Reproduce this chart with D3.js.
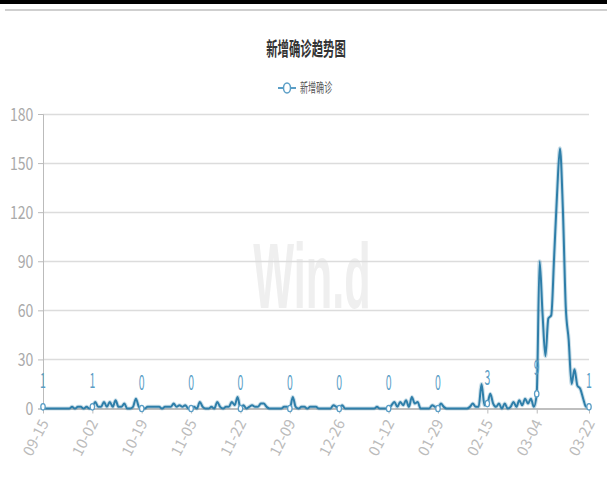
<!DOCTYPE html>
<html>
<head>
<meta charset="utf-8">
<script src="https://cdn.jsdelivr.net/npm/d3@7"></script>
<style>
  body { margin: 0; background: #fff; }
  svg { display: block; font-family: "Noto Sans CJK SC", "Noto Sans", sans-serif; }
</style>
</head>
<body>
<svg class="chart"></svg>
<script>
// daily categories 09-15 .. 03-22
var dates = [
  "09-15","09-16","09-17","09-18","09-19","09-20","09-21","09-22","09-23","09-24","09-25","09-26","09-27","09-28","09-29","09-30",
  "10-01","10-02","10-03","10-04","10-05","10-06","10-07","10-08","10-09","10-10","10-11","10-12","10-13","10-14","10-15","10-16",
  "10-17","10-18","10-19","10-20","10-21","10-22","10-23","10-24","10-25","10-26","10-27","10-28","10-29","10-30","10-31",
  "11-01","11-02","11-03","11-04","11-05","11-06","11-07","11-08","11-09","11-10","11-11","11-12","11-13","11-14","11-15",
  "11-16","11-17","11-18","11-19","11-20","11-21","11-22","11-23","11-24","11-25","11-26","11-27","11-28","11-29","11-30",
  "12-01","12-02","12-03","12-04","12-05","12-06","12-07","12-08","12-09","12-10","12-11","12-12","12-13","12-14","12-15","12-16",
  "12-17","12-18","12-19","12-20","12-21","12-22","12-23","12-24","12-25","12-26","12-27","12-28","12-29","12-30","12-31",
  "01-01","01-02","01-03","01-04","01-05","01-06","01-07","01-08","01-09","01-10","01-11","01-12","01-13","01-14","01-15","01-16",
  "01-17","01-18","01-19","01-20","01-21","01-22","01-23","01-24","01-25","01-26","01-27","01-28","01-29","01-30","01-31",
  "02-01","02-02","02-03","02-04","02-05","02-06","02-07","02-08","02-09","02-10","02-11","02-12","02-13","02-14","02-15","02-16",
  "02-17","02-18","02-19","02-20","02-21","02-22","02-23","02-24","02-25","02-26","02-27","02-28",
  "03-01","03-02","03-03","03-04","03-05","03-06","03-07","03-08","03-09","03-10","03-11","03-12","03-13","03-14","03-15","03-16",
  "03-17","03-18","03-19","03-20","03-21","03-22"
];

// 新增确诊 per day
var newCases = [
  1,0,0,0,0,0,0,0,0,0,
  1,0,1,1,0,1,0,1,4,1,
  1,4,1,4,1,5,1,1,3,0,
  0,1,6,1,0,0,1,1,1,1,
  1,0,1,1,1,3,1,2,1,2,
  0,0,1,0,4,1,0,0,1,0,
  4,1,0,1,1,4,2,7,0,2,
  0,1,2,1,1,3,3,1,0,0,
  0,0,0,1,1,0,7,1,0,1,
  1,0,1,1,1,0,0,0,0,0,
  2,1,0,2,0,0,0,0,0,0,
  0,0,0,0,0,1,0,0,0,0,
  2,4,1,4,2,5,1,7,3,4,
  0,0,0,0,2,1,0,3,1,0,
  0,0,0,0,0,0,0,1,3,1,
  1,15,2,3,9,3,1,3,0,3,
  0,1,4,1,5,2,6,3,6,1,
  9,90,58,32,55,57,93,131,159,122,
  62,42,15,24,14,12,6,1,1
];

var xTickLabels = ["09-15","10-02","10-19","11-05","11-22","12-09","12-26","01-12","01-29","02-15","03-04","03-22"];
var yTicks = [0, 30, 60, 90, 120, 150, 180];

var title = "新增确诊趋势图";
var seriesName = "新增确诊";

var W = 607, H = 497;
var margin = {top: 114, right: 18, bottom: 88, left: 43};
var lineColor = "#2e7ea9";

var data = dates.map(function(d, i) { return {date: d, value: newCases[i]}; });

var x = d3.scalePoint()
    .domain(dates)
    .range([margin.left, W - margin.right]);

var y = d3.scaleLinear()
    .domain([0, 180])
    .range([H - margin.bottom - 0.5, margin.top]);

var svg = d3.select(".chart")
    .attr("width", W)
    .attr("height", H);

// screenshot frame bars at the top
svg.append("rect").attr("x", 0).attr("y", 0).attr("width", W).attr("height", 4).attr("fill", "#000");
svg.append("rect").attr("x", 5).attr("y", 9).attr("width", W - 5).attr("height", 2).attr("fill", "#cfcfcf");

// narrow text helper
function ntext(g, tx, ty, sx, str) {
  return g.append("text")
    .attr("transform", "translate(" + tx + "," + ty + ") scale(" + sx + ",1)")
    .text(str);
}

// watermark
ntext(svg, 312, 308, 0.47, "Win.d")
    .attr("text-anchor", "middle")
    .attr("font-size", 92)
    .attr("font-weight", "bold")
    .attr("font-family", "Liberation Sans, Arial, sans-serif")
    .attr("fill", "#efefef");

// title
ntext(svg, 306, 56, 0.6, title)
    .attr("text-anchor", "middle")
    .attr("font-size", 19)
    .attr("font-weight", "bold")
    .attr("fill", "#333");

// legend
var leg = svg.append("g");
leg.append("line").attr("x1", 278).attr("x2", 296).attr("y1", 88).attr("y2", 88)
    .attr("stroke", "#5a9ec6").attr("stroke-width", 2);
leg.append("ellipse").attr("cx", 287).attr("cy", 88).attr("rx", 3.5).attr("ry", 5)
    .attr("fill", "#fff").attr("stroke", "#5a9ec6").attr("stroke-width", 1.5);
ntext(leg, 300, 92, 0.62, seriesName)
    .attr("font-size", 13)
    .attr("fill", "#555");

// grid lines
svg.append("g")
  .selectAll("line")
  .data(yTicks.slice(1))
  .enter().append("line")
    .attr("x1", margin.left)
    .attr("x2", W - margin.right)
    .attr("y1", function(d) { return Math.round(y(d)) + 0.5; })
    .attr("y2", function(d) { return Math.round(y(d)) + 0.5; })
    .attr("stroke", "#dcdcdc")
    .attr("stroke-width", 1.5);

// y axis
var yAxis = svg.append("g")
    .attr("transform", "translate(" + margin.left + ",0)")
    .call(d3.axisLeft(y).tickValues(yTicks).tickSize(5).tickPadding(5).tickFormat(d3.format("d")));
yAxis.select(".domain").attr("stroke", "#bbb");
yAxis.selectAll(".tick line").attr("stroke", "#bbb");
yAxis.selectAll(".tick text")
    .attr("fill", "#aaa")
    .attr("font-size", 18)
    .attr("font-family", "Noto Sans CJK SC, sans-serif")
    .attr("transform", function() { return "scale(0.78,1)"; })
    .attr("x", -12.5)
    .attr("dy", "0.36em");

// x axis
var xAxis = svg.append("g")
    .attr("transform", "translate(0," + y(0) + ")")
    .call(d3.axisBottom(x).tickValues(xTickLabels).tickSize(5).tickSizeOuter(0));
xAxis.select(".domain").attr("stroke", "#aaa").attr("stroke-width", 1.5);
xAxis.selectAll(".tick line").attr("stroke", "#bbb");
xAxis.selectAll(".tick text")
    .attr("fill", "#bbb")
    .attr("font-size", 15)
    .attr("font-family", "Noto Sans CJK SC, sans-serif")
    .attr("text-anchor", "end")
    .attr("transform", "translate(1,12) rotate(-63)")
    .attr("x", 0)
    .attr("y", 0)
    .attr("dy", "0.35em");

// line
var line = d3.line()
    .x(function(d) { return x(d.date); })
    .y(function(d) { return y(d.value); })
    .curve(d3.curveMonotoneX);

svg.append("path")
    .datum(data)
    .attr("fill", "none")
    .attr("stroke", lineColor)
    .attr("stroke-opacity", 0.25)
    .attr("stroke-width", 4)
    .attr("d", line);

svg.append("path")
    .datum(data)
    .attr("fill", "none")
    .attr("stroke", lineColor)
    .attr("stroke-width", 2)
    .attr("d", line);

// symbols + value labels at the labelled dates
var marked = data.filter(function(d) { return xTickLabels.indexOf(d.date) >= 0; });

var pts = svg.append("g").selectAll("g")
    .data(marked)
    .enter().append("g")
    .attr("transform", function(d) { return "translate(" + x(d.date) + "," + y(d.value) + ")"; });

pts.append("ellipse")
    .attr("rx", 2.2)
    .attr("ry", 3.2)
    .attr("fill", "#fff")
    .attr("stroke", "#5a9ec6")
    .attr("stroke-width", 1.3);

pts.append("text")
    .attr("transform", "translate(0,-19) scale(0.5,1)")
    .attr("text-anchor", "middle")
    .attr("font-size", 21)
    .attr("fill", "#5a9ec6")
    .text(function(d) { return d.value; });
</script>
</body>
</html>
